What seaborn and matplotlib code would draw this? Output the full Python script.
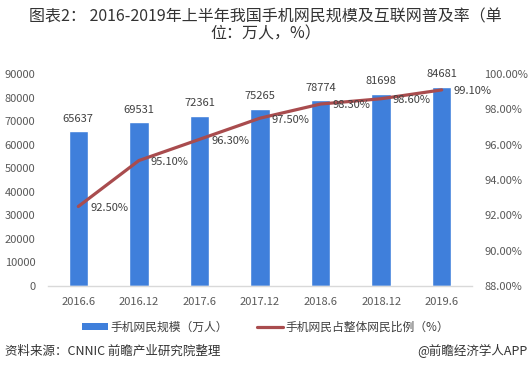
import numpy as np
import pandas as pd
import matplotlib
matplotlib.use("Agg")
import matplotlib.pyplot as plt
from matplotlib.patches import Patch
from matplotlib.lines import Line2D
import seaborn as sns

categories = ["2016.6", "2016.12", "2017.6", "2017.12", "2018.6", "2018.12", "2019.6"]
users = [65637, 69531, 72361, 75265, 78774, 81698, 84681]
ratio = [92.5, 95.1, 96.3, 97.5, 98.3, 98.6, 99.1]
left_ticks = [0, 10000, 20000, 30000, 40000, 50000, 60000, 70000, 80000, 90000]
right_ticks = [88, 90, 92, 94, 96, 98, 100]

title = "图表2： 2016-2019年上半年我国手机网民规模及互联网普及率（单\n位：万人，%）"
bar_name = "手机网民规模（万人）"
line_name = "手机网民占整体网民比例（%）"
source = "资料来源：CNNIC 前瞻产业研究院整理"
credit = "@前瞻经济学人APP"

sns.set_theme(style="white")
plt.rcParams["font.family"] = ["Noto Sans CJK SC", "DejaVu Sans"]

BAR = "#3F7FDB"
LINE = "#A94C4E"
TXT = "#404040"
TICK = "#595959"

W, H = 531, 379
fig = plt.figure(figsize=(W / 100, H / 100), dpi=100)
ax = fig.add_axes([48 / W, (H - 286) / H, (472 - 48) / W, (286 - 74) / H])

df = pd.DataFrame({"cat": categories, "users": users, "ratio": ratio})
sns.barplot(data=df, x="cat", y="users", color=BAR, width=0.32, ax=ax, saturation=1)
ax.set_ylim(0, 90000)
ax.set_yticks(left_ticks)
ax.set_xlabel("")
ax.set_ylabel("")
for s in ["top", "right", "left"]:
    ax.spines[s].set_visible(False)
ax.spines["bottom"].set_color("#D9D9D9")
ax.spines["bottom"].set_linewidth(1)
ax.tick_params(axis="both", length=0, labelsize=8, colors=TICK)
ax.tick_params(axis="y", pad=9)
ax.tick_params(axis="x", pad=8)

for p, v in zip(ax.patches, users):
    ax.annotate(f"{v}", (p.get_x() + p.get_width() / 2, p.get_height()),
                xytext=(0, 5.5), textcoords="offset points", ha="center", va="bottom",
                fontsize=8, color=TXT)

ax2 = ax.twinx()
xpos = np.arange(len(categories))
sns.lineplot(x=xpos, y=ratio, ax=ax2, color=LINE, linewidth=2.3)
ax2.set_ylim(88, 100)
ax2.set_yticks(right_ticks)
ax2.set_yticklabels([f"{t:.2f}%" for t in right_ticks])
ax2.set_ylabel("")
for s in ["top", "right", "left", "bottom"]:
    ax2.spines[s].set_visible(False)
ax2.tick_params(axis="y", length=0, labelsize=8, colors=TICK, pad=9)
ax.set_xlim(-0.5, len(categories) - 0.5)
ax2.set_xlim(-0.5, len(categories) - 0.5)

for x, v in zip(xpos, ratio):
    ax2.annotate(f"{v:.2f}%", (x, v), xytext=(8.5, -1), textcoords="offset points",
                 ha="left", va="center", fontsize=8, color=TXT)

fig.text(0.5, 1 - 25 / H, title, ha="center", va="center", fontsize=11.5,
         color="#333333", linespacing=1.0)

handles = [Patch(facecolor=BAR, edgecolor="none"),
           Line2D([0], [0], color=LINE, linewidth=2.3)]
leg = fig.legend(handles, [bar_name, line_name], loc="center",
                 bbox_to_anchor=(0.5, 1 - 327 / H), ncol=2, frameon=False,
                 fontsize=8.5, handlelength=2.2, handleheight=0.5,
                 handletextpad=0.2, columnspacing=2.5)
for t in leg.get_texts():
    t.set_color(TXT)

fig.text(5 / W, 1 - 351 / H, source, ha="left", va="center", fontsize=9,
         color="#333333", style="italic")
fig.text(527 / W, 1 - 351 / H, credit, ha="right", va="center", fontsize=9,
         color="#333333")

fig.savefig("out.png", dpi=100)
